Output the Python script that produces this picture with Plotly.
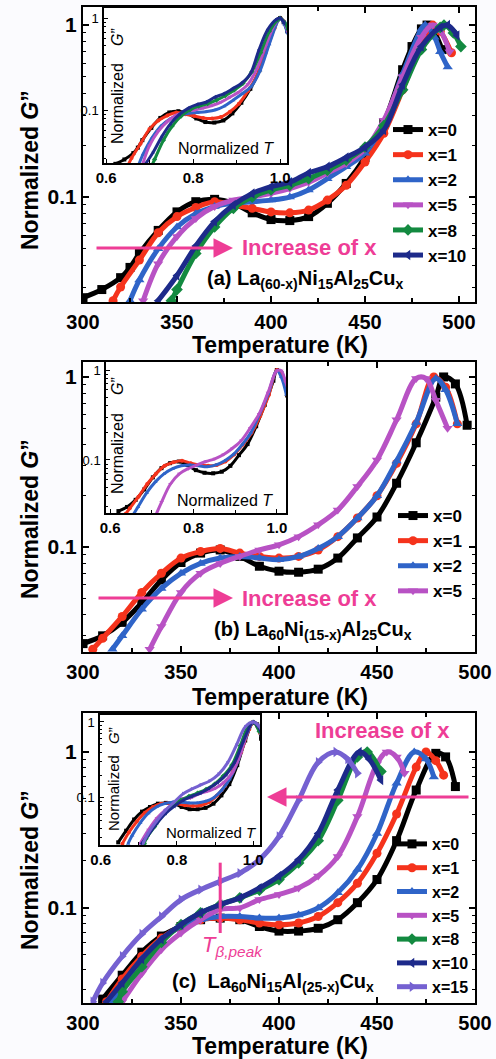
import numpy as np
import plotly.graph_objects as go

# ---------------- DATA ----------------
SERIES_A = ["x=0", "x=1", "x=2", "x=5", "x=8", "x=10"]
A_T = {
    "x=0": [300, 310, 320, 325, 330, 340, 350, 360, 370, 380, 390, 400, 410, 420, 430, 440, 450, 460, 470, 475, 480, 483, 487, 491],
    "x=1": [316, 320, 330, 340, 350, 360, 370, 380, 390, 400, 410, 420, 430, 440, 450, 460, 470, 480, 486, 490, 496],
    "x=2": [325, 330, 340, 350, 360, 370, 380, 390, 400, 410, 420, 430, 440, 450, 460, 470, 480, 482, 487, 490, 494],
    "x=5": [332, 340, 350, 360, 370, 380, 390, 400, 410, 420, 430, 440, 450, 460, 470, 480, 486, 490, 495],
    "x=8": [347, 350, 360, 370, 380, 390, 400, 410, 420, 430, 440, 450, 460, 470, 480, 490, 492, 497, 501],
    "x=10": [340, 350, 360, 370, 380, 390, 400, 410, 420, 430, 440, 450, 460, 470, 480, 490, 494, 499],
}
A_G = {
    "x=0": [0.026, 0.029, 0.034, 0.039, 0.047, 0.064, 0.082, 0.094, 0.097, 0.092, 0.081, 0.074, 0.073, 0.077, 0.092, 0.12, 0.17, 0.27, 0.55, 0.75, 0.95, 1.0, 0.9, 0.72],
    "x=1": [0.025, 0.030, 0.043, 0.062, 0.077, 0.087, 0.094, 0.090, 0.086, 0.082, 0.081, 0.084, 0.096, 0.117, 0.16, 0.235, 0.42, 0.78, 1.0, 0.92, 0.69],
    "x=2": [0.025, 0.033, 0.050, 0.067, 0.080, 0.088, 0.092, 0.094, 0.096, 0.10, 0.11, 0.128, 0.15, 0.18, 0.27, 0.52, 0.95, 1.0, 0.85, 0.70, 0.57],
    "x=5": [0.025, 0.041, 0.059, 0.075, 0.088, 0.096, 0.10, 0.105, 0.112, 0.122, 0.138, 0.157, 0.19, 0.28, 0.50, 0.85, 1.0, 0.93, 0.70],
    "x=8": [0.025, 0.029, 0.047, 0.067, 0.086, 0.10, 0.11, 0.117, 0.128, 0.143, 0.164, 0.195, 0.26, 0.42, 0.72, 0.97, 1.0, 0.9, 0.75],
    "x=10": [0.025, 0.035, 0.052, 0.072, 0.09, 0.105, 0.115, 0.122, 0.138, 0.15, 0.17, 0.195, 0.245, 0.45, 0.75, 0.97, 1.0, 0.87],
}

SERIES_B = ["x=0", "x=1", "x=2", "x=5"]
B_T = {
    "x=0": [300, 310, 320, 330, 340, 350, 360, 370, 380, 390, 400, 410, 420, 430, 440, 450, 460, 470, 480, 484, 490, 496],
    "x=1": [305, 310, 320, 330, 340, 350, 360, 370, 380, 390, 400, 410, 420, 430, 440, 450, 460, 470, 479, 485, 491],
    "x=2": [315, 320, 330, 340, 350, 360, 370, 380, 390, 400, 410, 420, 430, 440, 450, 460, 470, 480, 485, 491],
    "x=5": [334, 340, 350, 360, 370, 380, 390, 400, 410, 420, 430, 440, 450, 460, 470, 475, 480, 486],
}
B_G = {
    "x=0": [0.027, 0.030, 0.036, 0.047, 0.064, 0.081, 0.092, 0.096, 0.088, 0.077, 0.072, 0.071, 0.074, 0.086, 0.113, 0.15, 0.237, 0.41, 0.76, 1.0, 0.91, 0.52],
    "x=1": [0.025, 0.029, 0.039, 0.054, 0.070, 0.086, 0.094, 0.098, 0.092, 0.088, 0.086, 0.088, 0.096, 0.115, 0.148, 0.20, 0.31, 0.53, 1.0, 0.87, 0.53],
    "x=2": [0.025, 0.030, 0.043, 0.057, 0.070, 0.080, 0.086, 0.088, 0.086, 0.084, 0.088, 0.098, 0.115, 0.148, 0.20, 0.32, 0.54, 0.98, 0.84, 0.53],
    "x=5": [0.025, 0.034, 0.054, 0.070, 0.080, 0.088, 0.096, 0.103, 0.115, 0.135, 0.165, 0.227, 0.325, 0.56, 0.98, 0.98, 0.73, 0.50],
}

SERIES_C = ["x=0", "x=1", "x=2", "x=5", "x=8", "x=10", "x=15"]
C_T = {
    "x=0": [310, 320, 330, 340, 350, 360, 370, 380, 390, 400, 410, 420, 430, 440, 450, 460, 470, 480, 485, 490],
    "x=1": [312, 320, 330, 340, 350, 360, 370, 380, 390, 400, 410, 420, 430, 440, 450, 460, 470, 475, 480, 484],
    "x=2": [315, 320, 330, 340, 350, 360, 370, 380, 390, 400, 410, 420, 430, 440, 450, 460, 469, 475, 479],
    "x=5": [320, 330, 340, 350, 360, 370, 380, 390, 400, 410, 420, 430, 440, 450, 455, 460, 464],
    "x=8": [318, 320, 330, 340, 350, 360, 370, 380, 390, 400, 410, 420, 430, 440, 445, 452],
    "x=10": [312, 320, 330, 340, 350, 360, 370, 380, 390, 400, 410, 420, 430, 441, 446, 452],
    "x=15": [305, 310, 320, 330, 340, 350, 360, 370, 380, 390, 400, 410, 420, 429, 435, 440],
}
C_G = {
    "x=0": [0.026, 0.037, 0.052, 0.066, 0.076, 0.084, 0.086, 0.084, 0.076, 0.071, 0.071, 0.074, 0.084, 0.108, 0.152, 0.27, 0.57, 0.98, 0.93, 0.60],
    "x=1": [0.025, 0.035, 0.049, 0.064, 0.076, 0.084, 0.086, 0.084, 0.080, 0.078, 0.080, 0.088, 0.108, 0.144, 0.224, 0.40, 0.80, 1.0, 0.88, 0.71],
    "x=2": [0.025, 0.032, 0.047, 0.063, 0.076, 0.084, 0.088, 0.088, 0.086, 0.086, 0.090, 0.10, 0.125, 0.176, 0.30, 0.63, 1.0, 0.90, 0.69],
    "x=5": [0.025, 0.038, 0.054, 0.069, 0.084, 0.098, 0.10, 0.113, 0.122, 0.134, 0.16, 0.214, 0.385, 0.84, 1.0, 0.93, 0.73],
    "x=8": [0.025, 0.029, 0.042, 0.060, 0.078, 0.093, 0.105, 0.116, 0.13, 0.152, 0.194, 0.27, 0.49, 0.93, 1.0, 0.75],
    "x=10": [0.025, 0.033, 0.047, 0.063, 0.078, 0.093, 0.105, 0.116, 0.134, 0.16, 0.204, 0.30, 0.57, 1.0, 0.90, 0.66],
    "x=15": [0.025, 0.033, 0.049, 0.068, 0.088, 0.113, 0.131, 0.148, 0.167, 0.204, 0.287, 0.49, 0.86, 1.0, 0.90, 0.73],
}

T_BETA_PEAK = 370
T_BETA_MARK_G = [0.069, 0.195]
MAIN_XTICKS = [300, 350, 400, 450, 500]
INSET_XTICKS = [0.6, 0.8, 1.0]
YTICKS = [0.1, 1]

STYLE = {
    "x=0": ("#000000", "square"),
    "x=1": ("#f5331c", "circle"),
    "x=2": ("#2f64c8", "triangle-up"),
    "x=5": ("#b852c4", "triangle-down"),
    "x=8": ("#138a40", "diamond"),
    "x=10": ("#1d2a8a", "triangle-left"),
    "x=15": ("#7561d1", "triangle-right"),
}

PINK = "#ee3d96"
FONT = "Liberation Sans, Arial, sans-serif"
W, H = 496, 1059


def px(v):
    return v / W


def py(v):
    return (H - v) / H


fig = go.Figure()

panels = [
    (SERIES_A, A_T, A_G, "x", "y", "x4", "y4", "legend"),
    (SERIES_B, B_T, B_G, "x2", "y2", "x5", "y5", "legend2"),
    (SERIES_C, C_T, C_G, "x3", "y3", "x6", "y6", "legend3"),
]

for names, TT, GG, xa, ya, xi, yi, leg in panels:
    for n in names:
        col, sym = STYLE[n]
        fig.add_trace(go.Scatter(
            x=TT[n], y=GG[n], xaxis=xa, yaxis=ya, name=n, legend=leg,
            mode="lines+markers", line=dict(color=col, width=5, shape="spline"),
            marker=dict(color=col, symbol=sym, size=9),
        ))
    for n in names:
        col, sym = STYLE[n]
        t = np.array(TT[n], dtype=float)
        g = np.array(GG[n], dtype=float)
        tp = t[np.argmax(g)]
        fig.add_trace(go.Scatter(
            x=t / tp, y=g, xaxis=xi, yaxis=yi, showlegend=False,
            mode="lines+markers", line=dict(color=col, width=3, shape="spline"),
            marker=dict(color=col, symbol=sym, size=4),
        ))

# T_beta,peak marker line in panel (c)
fig.add_trace(go.Scatter(x=[T_BETA_PEAK, T_BETA_PEAK], y=T_BETA_MARK_G, xaxis="x3", yaxis="y3",
                         mode="lines", line=dict(color=PINK, width=3), showlegend=False))

minor_y = [0.03, 0.04, 0.05, 0.06, 0.07, 0.08, 0.09, 0.2, 0.3, 0.4, 0.5, 0.6, 0.7, 0.8, 0.9]


def main_x(domain, rng, anchor):
    return dict(domain=domain, range=rng, anchor=anchor, showgrid=False, zeroline=False, automargin=False,
                showline=True, linecolor="black", linewidth=2, mirror="ticks",
                ticks="inside", ticklen=6, tickwidth=2, tickcolor="black",
                tickvals=MAIN_XTICKS, ticktext=[str(v) for v in MAIN_XTICKS],
                tickfont=dict(family=FONT, size=20, color="black", weight="bold"),
                ticklabelstandoff=1,
                minor=dict(tickvals=[325, 375, 425, 475], ticks="inside", ticklen=4, tickwidth=2, tickcolor="black"))


def main_y(domain, rng, anchor):
    return dict(domain=domain, range=rng, anchor=anchor, type="log", showgrid=False, zeroline=False, automargin=False,
                showline=True, linecolor="black", linewidth=2, mirror="ticks",
                ticks="inside", ticklen=6, tickwidth=2, tickcolor="black",
                tickvals=YTICKS, ticktext=["0.1", "1"],
                tickfont=dict(family=FONT, size=21, color="black", weight="bold"),
                minor=dict(tickvals=minor_y, ticks="inside", ticklen=3, tickwidth=1, tickcolor="black"))


def inset_x(domain, rng, anchor):
    return dict(domain=domain, range=rng, anchor=anchor, showgrid=False, zeroline=False, automargin=False,
                showline=True, linecolor="black", linewidth=1.5, mirror=True,
                ticks="inside", ticklen=4, tickwidth=1, tickcolor="black",
                tickvals=INSET_XTICKS, ticktext=["0.6", "0.8", "1.0"],
                tickfont=dict(family=FONT, size=15, color="black", weight="bold"),
                minor=dict(tickvals=[0.7, 0.9], ticks="inside", ticklen=3, tickwidth=1, tickcolor="black"))


def inset_y(domain, rng, anchor):
    return dict(domain=domain, range=rng, anchor=anchor, type="log", showgrid=False, zeroline=False, automargin=False,
                showline=True, linecolor="black", linewidth=1.5, mirror=True,
                ticks="inside", ticklen=4, tickwidth=1, tickcolor="black",
                tickvals=YTICKS, ticktext=["0.1", "1"], ticklabelstandoff=1,
                tickfont=dict(family=FONT, size=13, color="black"),
                minor=dict(tickvals=minor_y, ticks="inside", ticklen=2, tickwidth=1, tickcolor="black"))


XD = [px(83), px(475)]
layout_axes = dict(
    xaxis=main_x(XD, [300, 508.5], "y"),
    yaxis=main_y([py(302), py(7)], [-1.61, 0.105], "x"),
    xaxis2=main_x(XD, [300, 500], "y2"),
    yaxis2=main_y([py(652), py(362)], [-1.618, 0.088], "x2"),
    xaxis3=main_x(XD, [300, 500], "y3"),
    yaxis3=main_y([py(1003), py(713)], [-1.61, 0.25], "x3"),
    xaxis4=inset_x([px(104), px(287)], [0.595, 1.016], "y4"),
    yaxis4=inset_y([py(163), py(8)], [-1.576, 0.109], "x4"),
    xaxis5=inset_x([px(106), px(286)], [0.590, 1.022], "y5"),
    yaxis5=inset_y([py(513), py(362)], [-1.59, 0.089], "x5"),
    xaxis6=inset_x([px(100), px(260)], [0.598, 1.018], "y6"),
    yaxis6=inset_y([py(845), py(715)], [-1.62, 0.092], "x6"),
)


def legend_at(xp, yp, size):
    return dict(x=px(xp), y=py(yp), xanchor="left", yanchor="top", bgcolor="rgba(0,0,0,0)",
                borderwidth=0, tracegroupgap=0, itemwidth=30,
                font=dict(family=FONT, size=size, color="black", weight="bold"))


annotations = []


def text(x, y, s, size, color="black", bold=True, angle=0, xanchor="center"):
    annotations.append(dict(x=px(x), y=py(y), xref="paper", yref="paper", text=s, showarrow=False,
                            xanchor=xanchor, yanchor="middle", textangle=angle,
                            font=dict(family=FONT, size=size, color=color,
                                      weight="bold" if bold else "normal")))


def arrow(x_head, x_tail, y):
    annotations.append(dict(x=px(x_head), y=py(y), xref="paper", yref="paper", ax=x_tail - x_head, ay=0,
                            axref="pixel", ayref="pixel", showarrow=True, arrowhead=2, arrowsize=1.3,
                            arrowwidth=3, arrowcolor=PINK, text=""))


GT = "Normalized <i>G</i>”"
# axis titles
for yc in (170, 519, 870):
    text(30, yc, GT, 23, angle=-90)
for yc in (345, 697, 1046):
    text(280, yc, "Temperature (K)", 23)

# insets texts
text(117, 104, "Normalized", 16, bold=False, angle=-90)
text(117, 37, "<i>G</i>”", 16, bold=False, angle=-90)
text(226, 149, "Normalized <i>T</i>", 16, bold=False)
text(117, 454, "Normalized", 16, bold=False, angle=-90)
text(117, 386, "<i>G</i>”", 16, bold=False, angle=-90)
text(225, 500, "Normalized <i>T</i>", 16, bold=False)
text(113, 793, "Normalized", 15, bold=False, angle=-90)
text(113, 736, "<i>G</i>”", 15, bold=False, angle=-90)
text(211, 833, "Normalized <i>T</i>", 15, bold=False)

# increase arrows
arrow(233, 95, 248)
text(240, 248, "Increase of x", 22, color=PINK, xanchor="left")
arrow(233, 97, 598)
text(240, 598, "Increase of x", 22, color=PINK, xanchor="left")
arrow(267, 470, 797)
text(382, 730, "Increase of x", 22, color=PINK)

# composition labels
text(205, 280, "(a) La<sub>(60-x)</sub>Ni<sub>15</sub>Al<sub>25</sub>Cu<sub>x</sub>", 20, xanchor="left")
text(212, 630, "(b) La<sub>60</sub>Ni<sub>(15-x)</sub>Al<sub>25</sub>Cu<sub>x</sub>", 20, xanchor="left")
text(170, 982, "(c)  La<sub>60</sub>Ni<sub>15</sub>Al<sub>(25-x)</sub>Cu<sub>x</sub>", 20, xanchor="left")

# T beta peak label
text(232, 946, "<i>T</i><sub><i>β,peak</i></sub>", 22, color=PINK, bold=False)

fig.update_layout(
    width=W, height=H, margin=dict(l=0, r=0, t=0, b=0),
    paper_bgcolor="#fbfbfe", plot_bgcolor="white",
    legend=legend_at(388, 112, 17),
    legend2=legend_at(393, 498, 17),
    legend3=legend_at(392, 827, 16),
    annotations=annotations,
    **layout_axes,
)

fig.write_html("out.html")
